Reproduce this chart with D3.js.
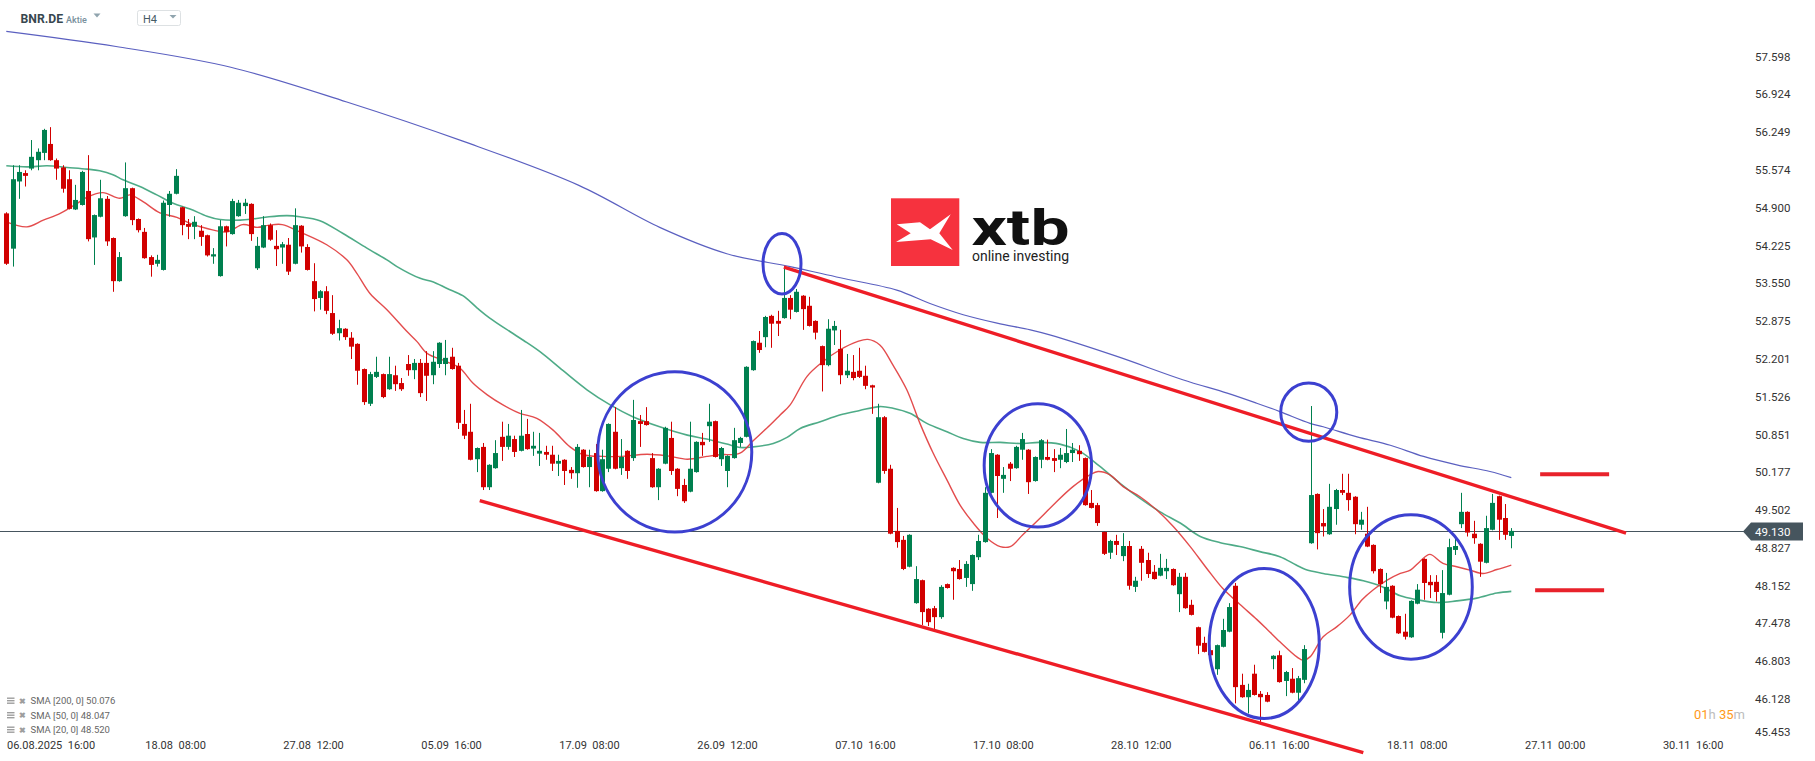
<!DOCTYPE html>
<html><head><meta charset="utf-8">
<script src="https://cdn.jsdelivr.net/npm/d3@7"></script>
<style>
html,body{margin:0;padding:0;background:#fff;}
svg{display:block;font-family:Roboto,"Noto Sans",sans-serif;}
</style></head><body>
<svg id="c" width="1815" height="761"></svg>
<script>
// ---------- DATA ----------
const openP = [54.80,54.17,55.37,55.52,55.60,55.75,55.88,56.04,55.75,55.62,55.41,54.87,54.95,55.20,54.37,54.74,55.06,54.36,53.59,54.75,
55.25,54.70,54.47,54.02,53.90,53.79,54.95,55.15,54.91,54.61,54.56,54.49,54.41,54.03,53.68,54.57,54.43,54.75,54.93,54.97,
53.82,54.19,54.59,54.22,54.19,54.24,53.90,54.58,54.20,53.59,53.29,53.41,53.02,52.66,52.74,52.58,52.47,52.02,51.40,51.88,
51.93,51.66,51.91,51.77,52.11,52.00,52.13,52.13,51.91,52.11,52.11,52.24,52.08,51.04,50.90,50.41,50.63,49.91,50.25,50.81,
50.63,50.77,50.56,50.86,50.60,50.51,50.54,50.49,50.33,50.40,50.22,50.16,50.58,50.27,50.52,49.84,50.24,50.90,50.25,50.56,
50.43,51.09,51.09,50.43,49.91,50.33,50.79,50.24,49.95,49.83,50.18,50.72,51.00,51.09,50.41,50.20,50.43,50.70,50.81,52.00,
52.49,52.59,52.97,52.88,52.93,53.29,53.04,53.33,53.15,52.88,52.43,52.09,52.71,52.38,51.91,51.97,51.99,51.90,51.73,49.99,
51.16,50.24,49.13,48.97,48.49,47.84,48.25,47.74,47.75,47.59,48.18,48.47,48.45,48.29,48.18,48.66,48.93,49.81,50.49,50.06,
50.33,50.25,50.58,50.58,50.02,50.40,50.45,50.43,50.40,50.36,50.52,50.56,50.43,49.63,49.59,49.11,48.74,48.95,48.68,48.86,
48.13,48.81,48.61,48.40,48.33,48.41,48.45,48.00,48.31,47.81,47.41,47.13,47.00,46.66,47.06,47.33,48.15,46.38,46.16,46.58,
46.22,46.20,46.84,46.91,46.45,46.49,46.24,46.47,48.91,49.79,49.27,49.07,49.52,49.86,49.81,49.74,49.24,49.08,48.88,48.45,
47.87,48.15,47.61,47.33,47.23,47.83,48.63,48.22,48.22,47.31,47.99,48.79,49.25,49.47,49.08,48.90,48.56,49.15,49.75,49.36,
49.04];
const highP = [54.82,55.66,55.66,55.57,56.11,55.96,56.31,56.34,55.78,55.66,55.57,55.31,55.56,55.84,54.78,55.40,55.11,54.37,54.11,55.71,
55.26,54.71,54.54,54.05,54.06,55.03,55.20,55.59,54.92,54.70,54.75,54.59,54.42,54.18,54.68,54.58,55.06,55.04,55.06,54.98,
54.38,54.75,54.62,54.50,54.29,54.36,54.89,54.59,54.25,53.91,53.43,53.50,53.34,52.90,52.75,52.68,52.48,52.03,51.97,52.24,
51.94,52.24,52.08,51.86,52.27,52.20,52.20,52.34,52.34,52.50,52.54,52.40,52.13,51.29,51.40,50.62,50.70,50.32,50.75,51.08,
51.04,50.83,51.29,51.13,50.90,50.88,50.65,50.65,50.49,50.41,50.27,50.68,50.59,50.58,50.68,50.58,51.05,51.34,50.77,50.57,
51.47,51.20,51.34,50.52,50.25,50.99,51.08,50.25,50.06,51.08,50.73,50.88,51.40,51.10,50.63,50.48,50.97,50.81,52.07,52.53,
52.70,52.97,52.99,53.06,53.86,53.34,53.45,53.34,53.31,52.89,52.44,52.91,52.88,52.72,52.29,52.27,52.40,52.08,51.74,51.40,
51.18,50.31,49.54,49.04,49.07,48.50,48.26,47.75,47.79,48.16,48.19,48.48,48.61,48.59,48.71,49.06,49.91,50.59,50.50,50.27,
50.36,50.65,50.88,50.59,50.46,50.77,50.76,50.59,50.61,50.95,50.70,50.66,50.44,49.86,49.63,49.12,48.97,49.06,49.09,48.95,
48.31,48.86,48.74,48.52,48.72,48.63,48.46,48.38,48.38,47.90,47.42,47.24,47.01,47.10,47.56,47.84,48.20,46.58,46.40,46.74,
46.27,46.25,46.91,46.99,46.63,46.68,46.54,47.09,51.36,49.80,49.52,49.97,49.88,50.15,50.15,49.75,49.47,49.56,48.89,48.46,
48.38,48.16,47.62,47.65,47.89,48.18,48.64,48.34,48.34,48.43,48.99,48.99,49.81,49.48,49.31,48.91,49.40,49.79,49.76,49.61,
49.18];
const lowP = [53.88,53.85,55.06,55.28,55.57,55.57,55.75,55.74,55.40,55.17,54.87,54.86,54.94,54.30,53.88,54.73,54.22,53.40,53.58,54.74,
54.59,54.46,53.99,53.67,53.85,53.78,54.74,55.14,54.41,54.34,54.34,54.22,54.03,53.90,53.67,54.21,54.42,54.74,54.79,54.31,
53.79,54.18,54.31,53.86,53.90,53.70,53.89,54.10,53.78,53.05,53.08,53.00,52.63,52.53,52.54,52.20,51.74,51.38,51.36,51.86,
51.50,51.65,51.63,51.63,51.90,51.84,51.52,51.45,51.75,52.04,51.91,52.01,50.95,50.77,50.39,50.18,49.86,49.86,50.24,50.38,
50.58,50.45,50.55,50.58,50.47,50.29,50.40,50.20,50.11,49.95,50.06,49.90,50.26,49.91,49.83,49.83,50.18,50.23,50.13,50.06,
50.38,50.63,51.01,49.90,49.68,50.32,50.13,49.75,49.63,49.82,50.17,50.47,50.72,50.44,50.29,49.91,50.42,50.63,50.80,51.99,
52.31,52.41,52.40,52.61,52.92,52.91,53.03,52.72,52.78,52.55,51.62,52.07,52.45,51.75,51.86,51.82,51.86,51.66,51.22,49.98,
50.15,49.07,48.83,48.43,48.48,47.83,47.45,47.43,47.36,47.56,48.10,47.90,48.26,48.13,48.06,48.61,48.92,49.80,49.36,49.81,
50.02,50.24,50.40,49.79,50.01,50.25,50.39,50.18,50.25,50.34,50.36,50.38,49.58,49.53,49.22,48.70,48.63,48.70,48.59,48.08,
48.04,48.24,48.29,48.26,48.32,48.27,48.15,47.68,47.74,47.62,46.93,46.96,46.90,46.56,47.05,47.32,46.05,46.15,45.87,46.19,
45.72,46.07,46.66,46.42,46.18,46.23,46.09,46.41,48.90,48.80,49.03,49.06,49.24,49.77,49.49,49.07,49.15,48.84,48.37,48.02,
47.73,47.57,47.29,47.19,47.22,47.82,47.90,47.93,47.87,47.21,47.98,48.70,49.18,49.03,48.90,48.31,48.55,49.14,48.97,48.97,
48.82];
const closeP = [53.90,55.41,55.54,55.47,55.81,55.90,56.29,55.75,55.60,55.24,54.88,55.04,55.54,54.34,54.77,55.07,54.30,53.59,54.02,55.25,
54.68,54.50,54.00,53.88,53.97,54.99,55.15,55.47,54.59,54.56,54.65,54.38,54.05,54.07,54.57,54.47,55.02,54.99,54.99,54.43,
54.22,54.59,54.33,54.16,54.25,53.76,54.59,54.21,53.79,53.27,53.41,53.06,52.65,52.75,52.59,52.42,51.99,51.43,51.93,51.97,
51.52,51.93,51.75,51.66,52.00,52.13,51.59,51.90,52.15,52.49,52.22,52.02,51.06,50.83,50.40,50.61,49.91,50.31,50.52,50.63,
50.83,50.54,50.83,50.59,50.65,50.56,50.49,50.33,50.38,50.20,50.16,50.63,50.27,50.45,49.84,50.41,51.04,50.24,50.45,50.20,
51.11,51.04,51.02,49.91,50.24,50.97,50.20,49.88,49.66,50.24,50.72,50.66,51.08,50.45,50.61,50.47,50.75,50.79,52.06,52.52,
52.36,52.95,52.83,52.83,53.29,53.08,53.40,53.09,52.79,52.67,52.09,52.74,52.79,51.91,51.99,51.86,51.88,51.72,51.69,51.16,
50.20,49.08,48.93,48.45,49.06,48.27,47.68,47.50,47.59,48.13,48.11,48.41,48.27,48.54,48.70,48.95,49.81,50.52,50.11,50.13,
50.24,50.63,50.77,50.00,50.45,50.75,50.40,50.38,50.49,50.52,50.58,50.50,49.59,49.54,49.27,48.72,48.95,48.88,48.86,48.15,
48.24,48.56,48.36,48.27,48.47,48.47,48.16,48.31,47.75,47.63,47.08,46.97,46.91,47.09,47.36,47.77,46.34,46.16,46.29,46.20,
46.16,46.08,46.90,46.43,46.61,46.24,46.50,47.02,49.77,49.09,49.21,49.56,49.86,49.81,49.68,49.25,49.33,48.85,48.41,48.18,
48.13,47.58,47.30,47.24,47.88,48.08,48.20,48.16,48.04,48.02,48.84,48.86,49.47,49.10,49.00,48.58,49.18,49.63,49.33,49.06,
49.13];

// moving averages: [candle index, value]
const sma200 = [[0,58.05],[17.5,57.78],[35.8,57.41],[54.3,56.79],[72.8,56.09],[91.3,55.30],[104.2,54.55],[114.9,54.08],[125,53.85],[133,53.65],
[142,53.43],[147.3,53.19],[152.6,52.99],[158,52.84],[163.3,52.72],[166.4,52.63],[177,52.25],[187.6,51.83],[194.7,51.59],[199.4,51.41],
[203.1,51.26],[207.9,51.05],[210,50.99],[215.4,50.81],[220.7,50.66],[226,50.46],[231.3,50.31],[236.6,50.19],[240,50.08]];
const sma50 = [[0,55.65],[3.3,55.63],[6.5,55.65],[9.7,55.62],[12.9,55.59],[14.9,55.56],[17,55.49],[18.6,55.40],[21.3,55.28],[24,55.13],
[26.6,54.98],[29.3,54.88],[32,54.75],[34.1,54.69],[37.3,54.68],[39.3,54.70],[41.9,54.74],[44.8,54.76],[46.8,54.74],[50,54.67],
[53.7,54.44],[57.5,54.18],[60.7,53.97],[62.3,53.85],[66,53.64],[68,53.58],[70.3,53.46],[72.8,53.33],[75.1,53.11],[77.1,52.93],
[80.3,52.69],[82.5,52.53],[85.1,52.33],[88.8,51.99],[92.6,51.65],[96.3,51.38],[99.9,51.17],[104.2,50.99],[108.6,50.84],[111.7,50.77],
[114.9,50.68],[117,50.62],[119.1,50.63],[122.3,50.69],[124.5,50.80],[126.6,50.96],[129.8,51.08],[132.9,51.20],[136.1,51.28],[139.3,51.35],
[141.4,51.32],[144.1,51.23],[146.8,51.05],[150,50.90],[152.6,50.78],[155.3,50.71],[158.5,50.71],[161.7,50.69],[164.8,50.71],[168,50.68],
[171.2,50.55],[174.4,50.28],[177.6,49.98],[180.8,49.71],[184,49.47],[187.2,49.27],[190.4,49.03],[193.6,48.92],[196.7,48.85],[199.9,48.76],
[203.1,48.67],[205.7,48.52],[207.2,48.44],[210,48.37],[213.2,48.31],[216.4,48.24],[219.5,48.13],[222.3,47.97],[225,47.90],[228.2,47.85],
[231.3,47.88],[234.5,47.93],[237.7,48.02],[240,48.05]];
const sma20 = [[0,54.65],[3.3,54.56],[5.9,54.68],[8.6,54.80],[11.3,54.98],[12.9,55.09],[15.4,55.17],[18.1,55.07],[19.7,55.13],[21.8,55.01],
[24.5,54.81],[27.2,54.73],[29.3,54.62],[32,54.53],[35.2,54.47],[37.7,54.60],[40,54.55],[41.9,54.59],[44,54.60],[46.8,54.47],
[51.1,54.24],[54.3,53.97],[55.9,53.73],[58,53.37],[60.7,53.08],[63.9,52.69],[65.5,52.51],[67.1,52.30],[70.3,52.15],[72.4,52.03],
[74.4,51.77],[76.7,51.56],[79.2,51.38],[81.9,51.23],[84.6,51.14],[87.2,50.93],[89.9,50.63],[92,50.49],[95.2,50.46],[97.9,50.46],
[102.2,50.50],[105.4,50.47],[108.6,50.41],[111.7,50.46],[113.8,50.49],[117,50.52],[119.1,50.74],[121.8,51.02],[123.4,51.20],[125,51.38],
[127.7,51.89],[130.2,52.15],[132.9,52.36],[135.7,52.51],[137.4,52.55],[139.3,52.45],[141.4,52.09],[143.6,51.65],[145.7,51.05],[147.8,50.52],
[150,50.04],[152.1,49.59],[154.2,49.27],[156.4,49.00],[158.5,48.85],[160.1,48.85],[162.1,49.06],[164.8,49.35],[167.2,49.62],[170.1,49.92],
[172.8,50.13],[174.1,50.19],[176,50.13],[178.1,49.92],[180.8,49.74],[183.5,49.50],[186.1,49.21],[188.8,48.85],[191.5,48.45],[194,48.10],
[196.7,47.82],[199.4,47.55],[201,47.38],[203.1,47.15],[205.8,46.88],[206.8,46.82],[207.9,46.88],[210,47.24],[212.2,47.42],[214.3,47.63],
[216.2,47.90],[218,48.08],[220.2,48.25],[222.3,48.37],[223.9,48.43],[225.4,48.58],[227,48.71],[229.1,48.55],[231.3,48.49],[233.4,48.43],
[235.5,48.37],[237.7,48.44],[240,48.52]];

const yTickLabels = ["57.598","56.924","56.249","55.574","54.900","54.225","53.550","52.875","52.201","51.526",
"50.851","50.177","49.502","48.827","48.152","47.478","46.803","46.128","45.453"];
const xTickIndex = [5,27,49,71,93,115,137,159,181,203,225,247,269];
const xTickLabels = ["06.08.2025  16:00","18.08  08:00","27.08  12:00","05.09  16:00","17.09  08:00","26.09  12:00","07.10  16:00",
"17.10  08:00","28.10  12:00","06.11  16:00","18.11  08:00","27.11  00:00","30.11  16:00"];
const lastPrice = 49.130;
const legendRows = ["SMA [200, 0] 50.076","SMA [50, 0] 48.047","SMA [20, 0] 48.520"];

// drawn annotations, in data units [candle index, price]
const upperTrend = [[124,53.84],[258.3,49.09]];
const lowerTrend = [[75.5,49.67],[216.4,45.17]];
const levels = [[244.6,255.6,50.14],[243.8,254.8,48.07]];
const rings = [ // center index, center price, half-width (candles), half-height (price)
 [106.6,50.54,12.28,1.43],[123.7,53.90,3.03,0.54],[164.5,50.30,8.56,1.10],
 [207.7,51.25,4.47,0.52],[200.6,47.12,8.77,1.34],[224.0,48.13,9.78,1.29]];

// ---------- DRAW ----------
const svg = d3.select("#c");
const x = d3.scaleLinear().domain([0,240]).range([6.3,1511.3]);
const y = d3.scaleLinear().domain([45.453,57.598]).range([736.8,56.7]);

const GREEN="#00804f", RED="#d10000";

// moving averages
const line = d3.line().x(d=>x(d[0])).y(d=>y(d[1])).curve(d3.curveCatmullRom);
svg.append("path").attr("d",line(sma200)).attr("fill","none").attr("stroke","#5b60c0").attr("stroke-width",1.2);
svg.append("path").attr("d",line(sma50)).attr("fill","none").attr("stroke","#2f9c72").attr("stroke-width",1.6).attr("stroke-opacity",0.85);
svg.append("path").attr("d",line(sma20)).attr("fill","none").attr("stroke","#e0393a").attr("stroke-width",1.4).attr("stroke-opacity",0.9);

// last price line
const yp = Math.round(y(lastPrice))+0.5;
svg.append("line").attr("x1",0).attr("x2",1745).attr("y1",yp).attr("y2",yp).attr("stroke","#46555e").attr("stroke-width",1.2);

// candles
const idx = d3.range(openP.length);
const cg = svg.append("g");
idx.forEach(i=>{
  const cx = Math.round(x(i));
  const up = closeP[i] >= openP[i];
  const col = up?GREEN:RED;
  cg.append("rect").attr("x",cx).attr("width",1)
    .attr("y",y(highP[i])).attr("height",Math.max(1,y(lowP[i])-y(highP[i]))).attr("fill",col);
  const top = y(Math.max(openP[i],closeP[i])), bot = y(Math.min(openP[i],closeP[i]));
  cg.append("rect").attr("x",cx-2).attr("width",5)
    .attr("y",top).attr("height",Math.max(1.2,bot-top)).attr("fill",col);
});

// trend lines
[upperTrend,lowerTrend].forEach(t=>{
  svg.append("line").attr("x1",x(t[0][0])).attr("y1",y(t[0][1])).attr("x2",x(t[1][0])).attr("y2",y(t[1][1]))
    .attr("stroke","#ee1d26").attr("stroke-width",3.4);
});
levels.forEach(l=>{
  svg.append("line").attr("x1",x(l[0])).attr("x2",x(l[1])).attr("y1",y(l[2])).attr("y2",y(l[2]))
    .attr("stroke","#e8222b").attr("stroke-width",4);
});
// rings
rings.forEach(r=>{
  svg.append("ellipse").attr("cx",x(r[0])).attr("cy",y(r[1]))
    .attr("rx",x(r[2])-x(0)).attr("ry",y(45.453)-y(45.453+r[3]))
    .attr("fill","none").attr("stroke","#3c40d0").attr("stroke-width",3);
});

// y axis labels
yTickLabels.forEach(t=>{
  const v = +t;
  svg.append("text").attr("x",1755).attr("y",Math.min(y(v),731.5)).attr("dy","0.35em")
    .attr("font-size",11.5).attr("fill","#333").text(t);
});
// price tag
svg.append("path").attr("d",`M1743,${yp} L1751,${yp-9} L1803,${yp-9} L1803,${yp+9} L1751,${yp+9} Z`).attr("fill","#46555e");
svg.append("text").attr("x",1755).attr("y",yp).attr("dy","0.36em").attr("font-size",11.5).attr("fill","#fff").text(lastPrice.toFixed(3));

// x axis labels
xTickIndex.forEach((k,j)=>{
  const t = svg.append("text").attr("y",749).attr("font-size",11).attr("fill","#333").style("white-space","pre").text(xTickLabels[j]);
  if(j===0){ t.attr("x",7); } else { t.attr("x",x(k)).attr("text-anchor","middle"); }
});

// timer
const tm = svg.append("text").attr("x",1745).attr("y",719).attr("text-anchor","end").attr("font-size",13);
tm.append("tspan").attr("fill","#ff9a1a").text("01");
tm.append("tspan").attr("fill","#bdbdbd").text("h ");
tm.append("tspan").attr("fill","#ff9a1a").text("35");
tm.append("tspan").attr("fill","#bdbdbd").text("m");

// legend
legendRows.forEach((t,j)=>{
  const cy = 701 + j*14.5;
  const g = svg.append("g");
  for(let k=0;k<3;k++) g.append("rect").attr("x",7).attr("y",cy-3.5+k*2.5).attr("width",7.5).attr("height",1.4).attr("fill","#9e9e9e");
  g.append("text").attr("x",18.5).attr("y",cy).attr("dy","0.35em").attr("font-size",8).attr("fill","#9e9e9e").attr("font-weight","bold").text("✖");
  g.append("text").attr("x",30.5).attr("y",cy).attr("dy","0.35em").attr("font-size",9.5).attr("fill","#666").text(t);
});

// header
const hd = svg.append("text").attr("y",23);
hd.append("tspan").attr("x",20.5).attr("font-size",12.2).attr("font-weight","bold").attr("fill","#37474f").text("BNR.DE");
hd.append("tspan").attr("x",66).attr("dy",-0.5).attr("font-size",9).attr("font-weight",500).attr("fill","#78909c").text("Aktie");
svg.append("path").attr("d","M93.5,13.5 L100.5,13.5 L97,17.5 Z").attr("fill","#90a4ae");
svg.append("rect").attr("x",137.5).attr("y",10.5).attr("width",43).attr("height",15).attr("rx",2).attr("fill","#fff").attr("stroke","#dde1e3");
svg.append("text").attr("x",143).attr("y",22.5).attr("font-size",11).attr("fill","#455a64").text("H4");
svg.append("path").attr("d","M169.5,15 L176.5,15 L173,18.5 Z").attr("fill","#90a4ae");

// logo
const lg = svg.append("g");
lg.append("rect").attr("x",891).attr("y",198.3).attr("width",68.3).attr("height",67.7).attr("fill","#f6323e");
lg.append("path").attr("d","M896.7,224.3 L920,222.3 L930,229.3 L950.7,214.3 L939.3,233.3 L952.7,250 L930.7,239.3 L896,242 L910.7,233.3 Z").attr("fill","#fff");
const lt = lg.append("text");
lt.append("tspan").attr("x",971.5).attr("y",245).attr("font-size",50).attr("font-weight","bold").attr("fill","#111")
  .attr("textLength",98).attr("lengthAdjust","spacingAndGlyphs").text("xtb");
lt.append("tspan").attr("x",972).attr("y",260.5).attr("font-size",14.5).attr("fill","#222")
  .attr("textLength",97).attr("lengthAdjust","spacingAndGlyphs").text("online investing");
</script>
</body></html>
